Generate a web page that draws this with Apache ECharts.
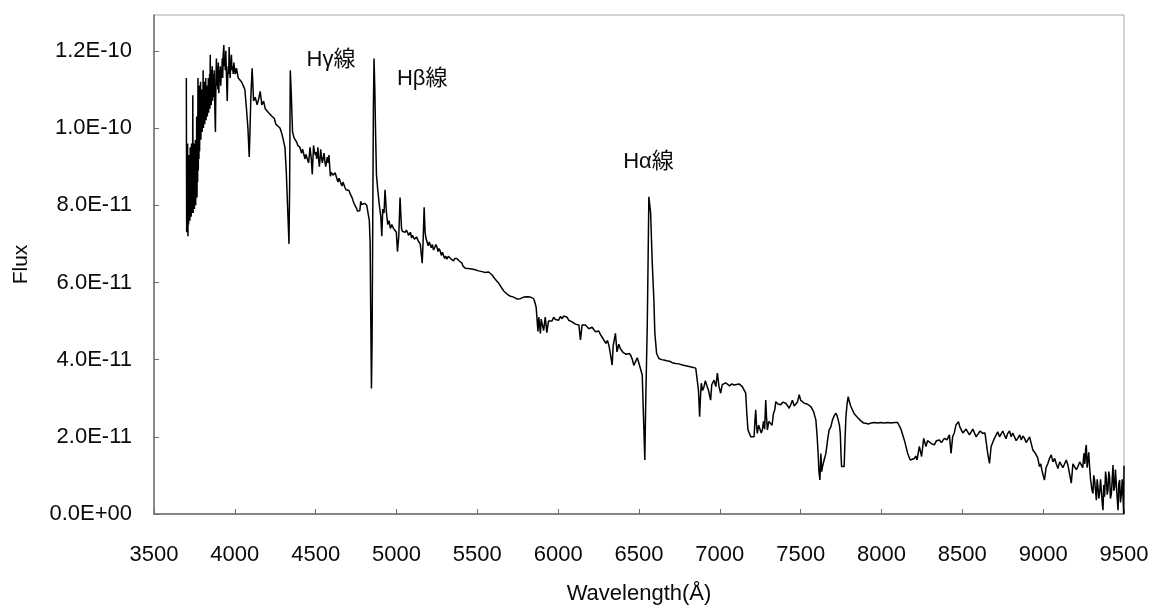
<!DOCTYPE html>
<html>
<head>
<meta charset="utf-8">
<title>Spectrum</title>
<script src="https://cdn.jsdelivr.net/npm/echarts@6/dist/echarts.min.js"></script>
<style>
  html, body { margin: 0; padding: 0; background: #fff; }
  #chart { width: 1153px; height: 608px; }
</style>
</head>
<body>
<div id="chart"></div>
<script>
// Spectrum split into wavelength ranges: wavelength in Å, flux in units of 1E-11.

// 3700–4000 Å (Balmer limit region, noisy)
const waveA = [
  3700,3702,3704,3706,3708,3710,3712,3714,3716,3718,3720,3722,3724,3726,3728,3730,3732,3734,3736,3738,
  3740,3742,3744,3746,3748,3750,3752,3754,3756,3758,3760,3762,3764,3766,3768,3770,3772,3774,3776,3778,
  3780,3782,3784,3786,3788,3790,3792,3794,3796,3798,3800,3802,3804,3806,3808,3810,3812,3814,3816,3818,
  3820,3822,3824,3826,3828,3830,3832,3834,3836,3838,3840,3842,3844,3846,3848,3850,3852,3854,3856,3858,
  3860,3862,3864,3866,3868,3870,3872,3874,3877,3880,3883,3886,3889,3892,3895,3898,3901,3904,3907,3910,
  3913,3916,3919,3922,3925,3928,3932,3935,3938,3941,3944,3948,3953,3956,3959,3962,3965,3968,3971,3975,
  3979,3982,3986,3990,3994
];
const fluxA = [
  11.3,7.3,9.0,7.4,9.6,7.2,8.8,7.5,9.3,7.7,9.0,7.6,9.5,7.8,9.2,7.7,9.6,7.8,9.4,7.9,
  10.85,7.8,9.5,8.0,9.6,7.9,9.4,8.1,9.7,8.0,9.5,8.3,10.3,8.2,9.8,8.6,11.3,8.9,10.2,9.2,
  11.1,9.4,10.8,9.9,11.2,9.7,10.9,10.0,11.0,9.9,10.7,10.1,11.5,10.0,11.0,10.2,11.2,10.1,10.9,10.3,
  11.3,10.2,11.0,10.4,11.1,10.3,10.9,10.5,11.3,10.4,11.0,10.6,11.4,10.5,11.9,10.7,11.5,10.6,11.3,10.8,
  11.6,10.7,11.4,10.9,11.2,10.8,11.5,11.0,10.4,9.9,11.2,11.8,11.1,11.6,11.0,11.7,10.9,11.5,11.2,11.6,
  11.1,11.5,11.3,11.8,11.3,11.9,12.15,11.6,11.8,11.5,12.0,11.4,10.7,11.3,11.6,11.4,12.1,11.6,11.3,11.7,
  11.9,11.5,11.6,11.4,11.7
];

// 4000–4850 Å (Hδ, Hγ)
const waveB = [
  4002,4010,4021,4031,4041,4052,4062,4072,4081,4089,4093,4099,4107,4116,4126,4138,4147,4157,4167,4178,
  4188,4198,4209,4221,4231,4244,4254,4266,4279,4291,4302,4310,4318,4326,4335,4339,4343,4349,4357,4366,
  4372,4378,4384,4390,4397,4403,4408,4413,4419,4424,4429,4434,4439,4444,4450,4456,4461,4465,4469,4473,
  4479,4483,4487,4492,4498,4502,4506,4510,4514,4518,4523,4527,4531,4536,4541,4546,4552,4557,4562,4567,
  4572,4577,4582,4587,4591,4596,4601,4607,4613,4620,4626,4632,4638,4645,4651,4657,4663,4669,4675,4681,
  4688,4694,4700,4706,4713,4719,4725,4731,4737,4743,4748,4753,4758,4763,4768,4773,4779,4785,4791,4797,
  4803,4810,4816,4821,4826,4832,4837,4841,4845,4849
];
const fluxB = [
  11.4,11.55,11.3,11.25,11.2,11.1,11.0,10.5,10.0,9.25,9.8,10.8,11.55,10.7,10.8,10.6,10.75,10.95,10.6,10.7,
  10.5,10.55,10.4,10.45,10.3,10.25,10.1,10.05,10.0,9.85,9.8,9.5,8.9,8.0,7.0,8.5,11.5,10.9,9.9,9.75,
  9.8,9.7,9.62,9.55,9.6,9.5,9.42,9.35,9.45,9.4,9.28,9.2,9.32,9.3,9.18,9.1,9.3,9.5,9.35,9.2,
  8.8,9.2,9.55,9.4,9.3,9.38,9.2,9.3,9.5,9.2,9.0,9.2,9.45,9.25,9.1,9.2,9.35,9.15,9.0,9.12,
  9.25,9.1,9.3,9.0,8.75,8.85,8.9,8.78,8.75,8.84,8.8,8.68,8.6,8.7,8.65,8.56,8.5,8.6,8.55,8.46,
  8.4,8.44,8.35,8.38,8.3,8.25,8.2,8.12,8.05,8.08,8.0,7.92,7.85,7.8,7.9,7.86,8.1,8.02,8.05,7.98,
  8.05,8.0,8.0,8.04,8.0,7.6,7.0,5.0,3.25,4.5
];

// 4850–5900 Å (Hβ, Mg b, Na D)
const waveC = [
  4853,4857,4861,4866,4870,4876,4884,4894,4903,4909,4915,4923,4929,4938,4946,4954,4962,4971,4981,4991,
  4999,5006,5014,5022,5031,5037,5043,5049,5055,5061,5068,5074,5080,5087,5093,5099,5105,5111,5117,5124,
  5130,5136,5142,5147,5152,5159,5165,5171,5177,5182,5188,5196,5203,5208,5215,5222,5229,5236,5243,5250,
  5257,5263,5270,5277,5284,5291,5298,5305,5312,5320,5326,5332,5340,5347,5353,5360,5367,5373,5382,5390,
  5398,5405,5412,5418,5425,5435,5445,5456,5466,5476,5487,5497,5507,5518,5528,5538,5549,5559,5570,5580,
  5590,5601,5611,5622,5632,5642,5652,5663,5673,5684,5694,5705,5715,5725,5736,5746,5756,5766,5776,5787,
  5797,5807,5818,5828,5838,5848,5855,5859,5864,5869,5875,5880,5885,5890,5895
];
const fluxC = [
  7.5,10.5,11.8,11.0,10.0,8.8,8.4,8.0,7.7,7.2,7.9,7.8,8.4,7.8,7.5,7.6,7.4,7.5,7.4,7.35,
  7.3,6.8,7.2,8.2,7.4,7.32,7.35,7.28,7.3,7.36,7.3,7.22,7.25,7.3,7.15,7.22,7.2,7.12,7.1,7.18,
  7.15,7.06,7.05,7.0,6.95,6.5,7.1,7.95,7.3,7.15,7.1,6.95,7.05,7.0,6.9,6.98,6.84,6.9,6.98,6.92,
  6.8,6.88,6.82,6.7,6.78,6.7,6.62,6.68,6.6,6.68,6.64,6.67,6.6,6.64,6.56,6.62,6.6,6.62,6.58,6.55,
  6.52,6.5,6.42,6.4,6.37,6.39,6.36,6.38,6.35,6.36,6.33,6.34,6.3,6.31,6.28,6.32,6.26,6.24,6.27,6.24,
  6.2,6.15,6.08,6.04,5.98,5.96,5.85,5.78,5.74,5.7,5.69,5.64,5.67,5.62,5.6,5.57,5.54,5.58,5.56,5.62,
  5.65,5.63,5.65,5.62,5.64,5.58,5.5,5.45,5.35,5.3,4.73,5.1,4.9,4.68,5.05
];

// 5900–6900 Å (Hα, telluric B band)
const waveD = [
  5900,5910,5920,5930,5940,5952,5962,5972,5983,5993,6003,6014,6024,6034,6045,6055,6065,6075,6086,6096,
  6106,6117,6128,6138,6148,6158,6169,6180,6190,6200,6210,6220,6231,6241,6251,6262,6272,6282,6295,6305,
  6315,6325,6334,6340,6354,6364,6375,6385,6395,6403,6410,6420,6430,6440,6450,6459,6468,6478,6489,6500,
  6510,6520,6528,6536,6542,6551,6556,6561,6567,6572,6576,6582,6592,6598,6609,6623,6632,6640,6647,6654,
  6662,6670,6680,6688,6695,6705,6715,6726,6737,6747,6758,6768,6778,6789,6800,6810,6819,6830,6840,6851,
  6861,6868,6875,6880,6885,6893
];
const fluxD = [
  5.1,4.75,5.1,4.7,5.0,5.05,5.0,5.1,5.04,5.08,5.02,5.12,5.06,5.13,5.08,5.1,5.02,5.05,4.98,5.0,
  4.92,4.96,4.9,4.51,4.9,4.85,4.9,4.86,4.8,4.8,4.84,4.78,4.72,4.7,4.74,4.65,4.58,4.6,4.42,4.5,
  4.35,4.3,3.86,4.35,4.68,4.2,4.4,4.28,4.3,4.18,4.2,4.14,4.1,4.16,4.1,4.0,3.85,3.8,4.05,3.9,
  3.75,3.6,2.5,1.4,3.0,4.86,6.5,8.22,8.27,7.8,7.27,6.5,5.55,4.68,4.16,4.03,3.98,4.0,3.96,3.99,
  3.95,3.97,3.93,3.96,3.95,3.92,3.94,3.9,3.92,3.89,3.9,3.86,3.88,3.84,3.86,3.82,3.83,3.8,3.81,3.78,
  3.78,3.2,2.52,3.0,3.39,3.2
];

// 6900–8100 Å (TiO bands, telluric A band)
const waveE = [
  6902,6910,6918,6930,6943,6950,6964,6975,6985,6995,7005,7015,7026,7036,7046,7060,7075,7088,7100,7119,
  7130,7139,7150,7160,7167,7174,7182,7191,7200,7212,7217,7222,7227,7232,7240,7249,7256,7263,7270,7277,
  7284,7289,7294,7303,7315,7323,7332,7340,7346,7360,7377,7390,7408,7420,7429,7440,7449,7460,7470,7480,
  7491,7500,7510,7522,7540,7563,7580,7594,7602,7608,7613,7619,7625,7630,7635,7645,7656,7666,7676,7686,
  7697,7708,7718,7725,7732,7740,7745,7750,7753,7760,7769,7775,7780,7787,7794,7802,7811,7820,7831,7841,
  7852,7862,7871,7880,7888,7893,7902,7910,7920,7935,7945,7955,7965,7976,7986,7995,8006,8017,8028,8040,
  8049,8058,8069,8080,8090,8100
];
const fluxE = [
  3.3,3.45,3.47,3.2,2.95,3.35,3.47,3.3,3.65,3.3,3.13,3.35,3.3,3.4,3.37,3.32,3.37,3.34,3.38,3.37,
  3.33,3.3,3.25,3.13,2.6,2.18,2.1,2.0,2.05,2.0,2.4,2.7,2.3,2.09,2.3,2.26,2.1,2.18,2.4,2.2,
  2.95,2.5,2.18,2.4,2.44,2.3,2.61,2.7,2.91,2.85,2.83,2.9,2.87,2.8,2.74,2.85,2.95,2.8,2.78,2.9,
  3.09,2.95,2.9,2.87,2.85,2.78,2.65,2.44,2.0,1.57,1.1,0.88,1.57,1.1,1.23,1.4,1.57,1.9,2.18,2.25,
  2.44,2.55,2.61,2.55,2.44,2.3,2.09,1.5,1.23,1.25,1.23,2.0,2.52,2.85,3.04,2.9,2.78,2.7,2.6,2.55,
  2.5,2.45,2.42,2.4,2.36,2.4,2.35,2.38,2.33,2.36,2.32,2.37,2.33,2.36,2.32,2.37,2.33,2.36,2.33,2.37,
  2.32,2.36,2.33,2.37,2.34,2.37
];

// 8100–9500 Å (Ca II triplet, red end)
const waveF = [
  8120,8141,8162,8178,8190,8203,8212,8220,8234,8248,8261,8275,8285,8296,8310,8327,8340,8358,8370,8389,
  8405,8420,8430,8440,8450,8461,8476,8485,8492,8503,8513,8523,8533,8544,8554,8565,8575,8585,8595,8610,
  8626,8640,8647,8657,8668,8678,8694,8705,8719,8730,8740,8750,8761,8770,8781,8792,8802,8812,8823,8833,
  8843,8855,8864,8875,8885,8895,8905,8916,8926,8936,8947,8957,8967,8977,8985,8992,9000,9008,9018,9029,
  9040,9050,9060,9071,9081,9091,9102,9112,9122,9132,9143,9153,9163,9174,9184,9194,9205,9215,9226,9236,
  9245,9252,9258,9263,9267,9272,9277,9282,9287,9293,9298,9303,9308,9313,9318,9324,9329,9334,9339,9344,
  9349,9355,9360,9365,9370,9375,9380,9386,9391,9396,9401,9406,9411,9416,9422,9427,9432,9437,9442,9447,
  9453,9458,9463,9468,9473,9478,9484,9489,9494,9498,9500
];
const fluxF = [
  2.2,1.92,1.57,1.4,1.45,1.44,1.5,1.4,1.75,1.49,1.96,1.75,1.9,1.88,1.82,1.79,1.9,1.92,1.85,1.96,
  1.92,2.05,1.57,2.0,2.1,2.31,2.39,2.25,2.22,2.1,2.09,2.2,2.18,2.05,2.05,2.2,2.18,2.0,2.05,2.15,
  2.09,2.1,2.05,1.57,1.31,1.75,1.92,1.9,2.13,2.0,2.05,2.15,2.13,1.95,2.09,2.15,2.0,2.1,2.05,1.9,
  1.96,2.05,1.92,2.02,1.96,1.85,1.88,2.0,2.0,1.66,1.6,1.53,1.45,1.23,1.3,1.14,1.0,0.88,1.2,1.31,
  1.45,1.53,1.35,1.44,1.3,1.18,1.35,1.31,1.2,1.23,1.4,1.27,1.3,0.8,1.3,1.31,1.15,1.23,1.35,1.4,
  1.2,1.57,1.3,1.7,1.79,1.2,1.18,1.6,1.23,0.9,0.88,0.6,0.53,1.0,0.88,0.6,0.36,0.9,0.7,0.4,
  0.53,0.9,0.62,0.3,0.1,0.75,0.45,1.1,0.92,0.5,0.62,1.1,0.97,0.4,0.53,0.9,1.27,0.6,0.7,1.15,
  1.1,0.4,0.1,0.8,0.88,0.3,0.53,0.9,0.45,0.0,1.25
];

// Flux-axis tick labels for 0, 2, 4 ... 12 (×1E-11)
const fluxTickLabels = ['0.0E+00', '2.0E-11', '4.0E-11', '6.0E-11', '8.0E-11', '1.0E-10', '1.2E-10'];

// Hydrogen emission-line annotations
const lineNames = ['Hγ線', 'Hβ線', 'Hα線'];

const wavelength = [].concat(waveA, waveB, waveC, waveD, waveE, waveF);
const fluxE11 = [].concat(fluxA, fluxB, fluxC, fluxD, fluxE, fluxF);
const spectrum = wavelength.map((w, i) => [w, fluxE11[i]]);

const FONT = '"Liberation Sans", "Noto Sans CJK JP", sans-serif';
const TEXT = '#0a0a0a';
const AXIS = '#6e6e6e';

const chart = echarts.init(document.getElementById('chart'), null, { renderer: 'canvas' });

chart.setOption({
  animation: false,
  backgroundColor: '#fff',
  grid: {
    left: 154, right: 29, top: 15, bottom: 94,
    outerBoundsMode: 'none',
    containLabel: false,
    show: true, borderColor: '#a8a8a8', borderWidth: 1
  },
  xAxis: {
    type: 'value',
    min: 3500, max: 9500, interval: 500,
    name: 'Wavelength(Å)',
    nameLocation: 'middle',
    nameGap: 69,
    nameTextStyle: { fontFamily: FONT, fontSize: 22, color: TEXT },
    axisLine: { show: true, onZero: false, lineStyle: { color: AXIS, width: 1.5 } },
    axisTick: { show: true, inside: true, length: 5, lineStyle: { color: AXIS, width: 1 } },
    axisLabel: { fontFamily: FONT, fontSize: 22, color: TEXT, margin: 30, formatter: v => String(v) },
    splitLine: { show: false }
  },
  yAxis: {
    type: 'value',
    min: 0, max: 12.93, interval: 2,
    name: 'Flux',
    nameLocation: 'middle',
    nameRotate: 90,
    nameGap: 122,
    nameTextStyle: { fontFamily: FONT, fontSize: 21, color: TEXT },
    axisLine: { show: true, lineStyle: { color: AXIS, width: 1.5 } },
    axisTick: { show: true, inside: true, length: 5, lineStyle: { color: AXIS, width: 1 } },
    axisLabel: {
      fontFamily: FONT, fontSize: 22, color: TEXT, margin: 22,
      showMaxLabel: false,
      formatter: v => {
        const k = Math.round(v / 2);
        return Math.abs(v - 2 * k) < 1e-6 ? fluxTickLabels[k] : '';
      }
    },
    splitLine: { show: false }
  },
  series: [{
    type: 'line',
    data: spectrum,
    showSymbol: false,
    symbol: 'none',
    clip: true,
    lineStyle: { color: '#000', width: 1.5 },
    markPoint: {
      symbol: 'circle',
      symbolSize: 0,
      silent: true,
      label: {
        show: true, position: 'inside',
        fontFamily: FONT, fontSize: 22, color: TEXT,
        formatter: p => p.name
      },
      data: [
        { name: lineNames[0], coord: [4595, 11.76] },
        { name: lineNames[1], coord: [5159, 11.27] },
        { name: lineNames[2], coord: [6559, 9.12] }
      ]
    }
  }]
});
</script>
</body>
</html>
